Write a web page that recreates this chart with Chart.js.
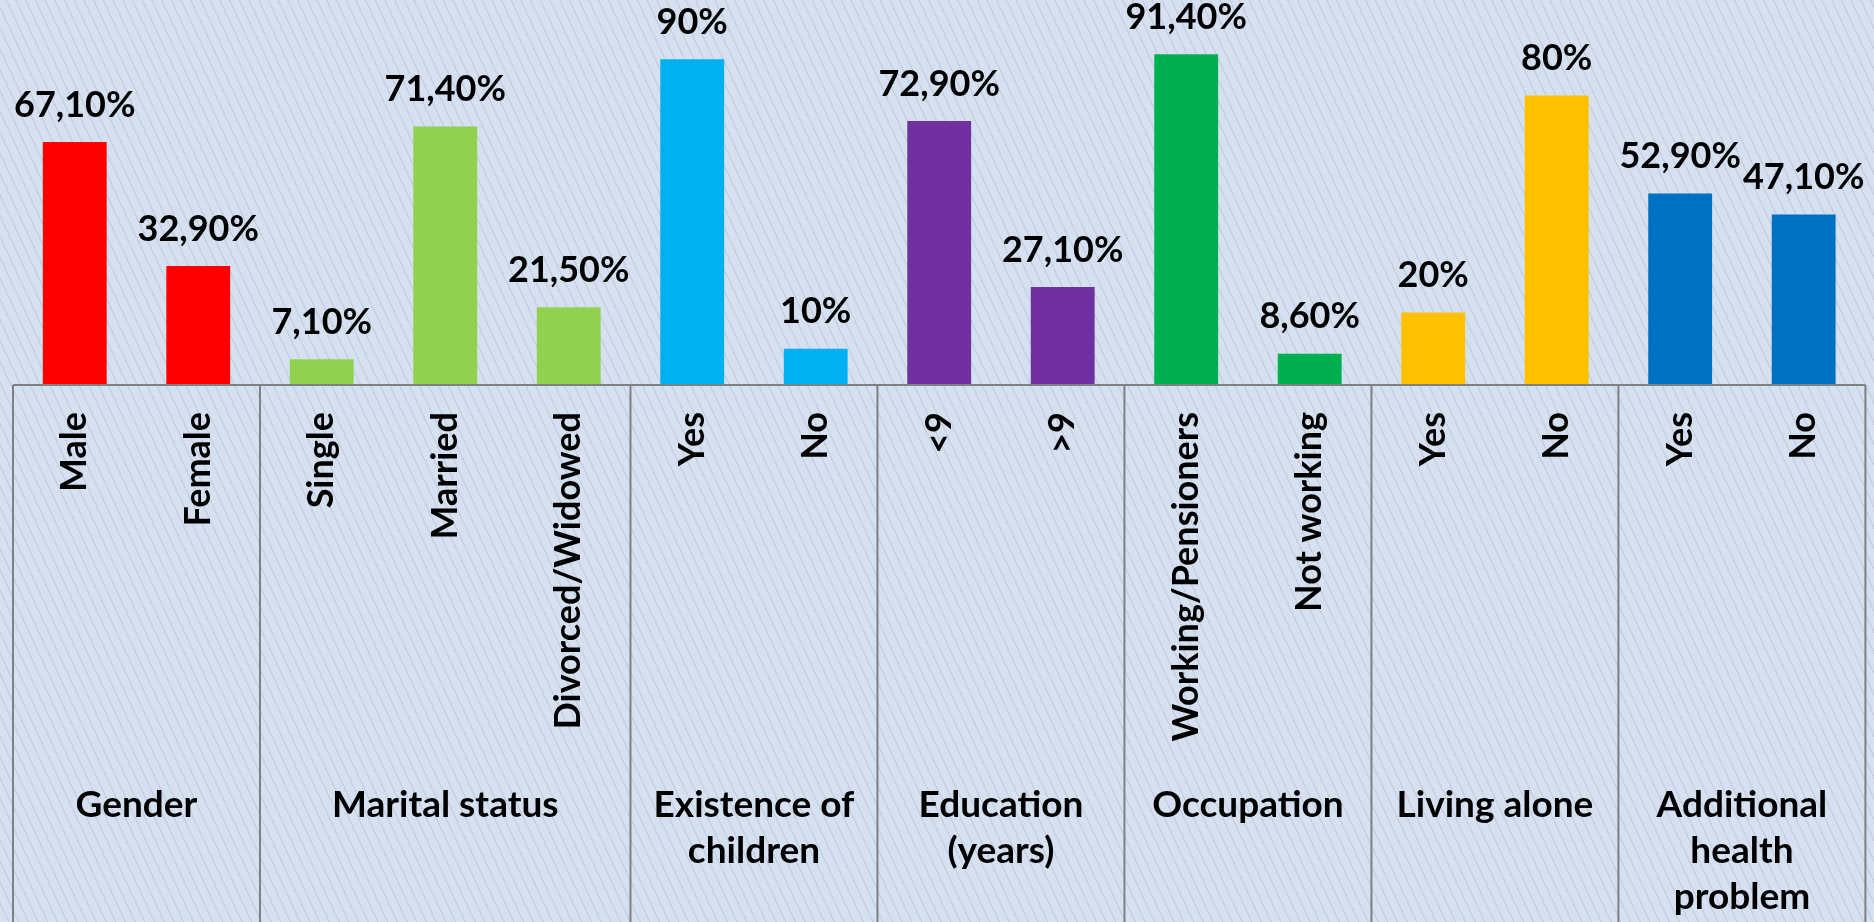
<!DOCTYPE html>
<html>
<head>
<meta charset="utf-8">
<script src="https://cdn.jsdelivr.net/npm/chart.js@4/dist/chart.umd.min.js"></script>
<style>
  html, body { margin: 0; padding: 0; }
  body {
    width: 1874px; height: 922px; overflow: hidden;
    background-color: #d5e0f0;
    background-image: repeating-linear-gradient(65deg, #d5e0f0 0px, #d5e0f0 7.4px, #c6d0e2 7.4px, #c6d0e2 8.8px);
  }
  canvas { display: block; }
</style>
</head>
<body>
<canvas id="c" width="1874" height="922"></canvas>
<script>
// ---- data ----
const categories = ['Male', 'Female', 'Single', 'Married', 'Divorced/Widowed', 'Yes', 'No', '<9', '>9',
                    'Working/Pensioners', 'Not working', 'Yes', 'No', 'Yes', 'No'];
const values = [67.1, 32.9, 7.1, 71.4, 21.5, 90, 10, 72.9, 27.1, 91.4, 8.6, 20, 80, 52.9, 47.1];
const groupNames = [['Gender'], ['Marital status'], ['Existence of', 'children'], ['Education', '(years)'],
                    ['Occupation'], ['Living alone'], ['Additional', 'health', 'problem']];
const groupSizes = [2, 3, 2, 2, 2, 2, 2];
const groupColors = ['#FF0000', '#92D050', '#00B0F0', '#7030A0', '#00B050', '#FFC000', '#0070C0'];

// per-bar colours built from groups
const barColors = [];
groupSizes.forEach((n, g) => { for (let i = 0; i < n; i++) barColors.push(groupColors[g]); });

function fmt(v) {
  if (Number.isInteger(v)) return v + '%';
  return v.toFixed(2).replace('.', ',') + '%';
}

const FONT = 'Lato, "Open Sans", sans-serif';

const decor = {
  id: 'decor',
  afterDatasetsDraw(chart) {
    const ctx = chart.ctx;
    const xs = chart.scales.x;
    const area = chart.chartArea;
    const meta = chart.getDatasetMeta(0);
    const step = (area.right - area.left) / categories.length;

    // value labels
    ctx.save();
    ctx.fillStyle = '#000';
    ctx.font = 'bold 36px ' + FONT;
    ctx.textAlign = 'center';
    ctx.textBaseline = 'middle';
    meta.data.forEach((bar, i) => {
      ctx.fillText(fmt(values[i]), bar.x, bar.y - 37);
    });
    ctx.restore();

    // box lines
    ctx.save();
    ctx.strokeStyle = '#808080';
    ctx.lineWidth = 2;
    ctx.beginPath();
    ctx.moveTo(area.left, area.bottom);
    ctx.lineTo(area.right, area.bottom);
    let idx = 0;
    const bounds = [0];
    groupSizes.forEach(n => { idx += n; bounds.push(idx); });
    bounds.forEach(b => {
      const x = xs.getPixelForValue(b) - step / 2;
      ctx.moveTo(x, area.bottom);
      ctx.lineTo(x, chart.height);
    });
    ctx.stroke();
    ctx.restore();

    // group labels
    ctx.save();
    ctx.fillStyle = '#000';
    ctx.font = 'bold 37px ' + FONT;
    ctx.textAlign = 'center';
    ctx.textBaseline = 'alphabetic';
    let start = 0;
    groupSizes.forEach((n, g) => {
      const x0 = xs.getPixelForValue(start) - step / 2;
      const x1 = xs.getPixelForValue(start + n - 1) + step / 2;
      const cx = (x0 + x1) / 2;
      groupNames[g].forEach((line, li) => {
        ctx.fillText(line, cx, 817 + li * 46);
      });
      start += n;
    });
    ctx.restore();
  }
};

new Chart(document.getElementById('c'), {
  type: 'bar',
  data: {
    labels: categories,
    datasets: [{
      data: values,
      backgroundColor: barColors,
      borderWidth: 0,
      categoryPercentage: 1,
      barPercentage: 0.517
    }]
  },
  options: {
    responsive: false,
    animation: false,
    events: [],
    layout: { padding: { top: 23, left: 13, right: 4, bottom: 0 } },
    plugins: { legend: { display: false }, tooltip: { enabled: false } },
    scales: {
      y: { display: false, min: 0, max: 100 },
      x: {
        grid: { display: false, drawTicks: false },
        border: { display: false },
        ticks: {
          autoSkip: false,
          minRotation: 90,
          maxRotation: 90,
          padding: 27,
          color: '#000',
          font: { family: FONT, weight: 'bold', size: 36 }
        },
        afterFit(scale) { scale.height = 537; }
      }
    }
  },
  plugins: [decor]
});
</script>
</body>
</html>
